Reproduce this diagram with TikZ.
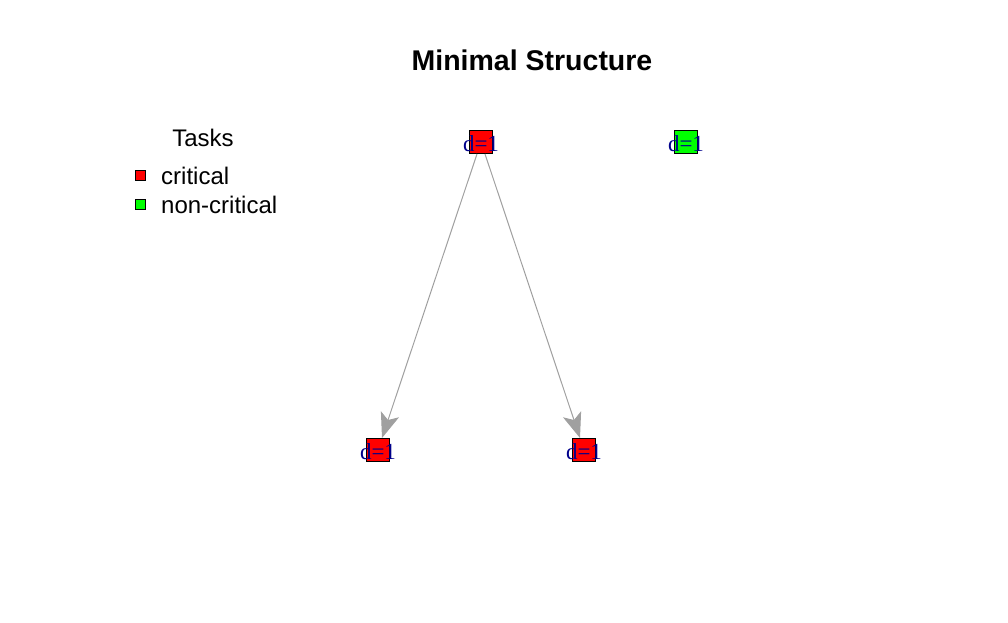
\documentclass[tikz,border=0pt]{standalone}
\usepackage{fontspec}
\setmainfont{Liberation Serif}
\newfontfamily\arialfont{Liberation Sans}
\usetikzlibrary{arrows.meta}
\definecolor{crit}{HTML}{FF0000}
\definecolor{noncrit}{HTML}{00FF00}
\definecolor{edgegray}{HTML}{A0A0A0}
\definecolor{lblblue}{HTML}{00008B}
\tikzset{
  task/.style={draw=black, line width=1pt, minimum width=23pt, minimum height=23pt, inner sep=0pt},
  tasklabel/.style={text=lblblue, font=\fontsize{23}{23}\selectfont, inner sep=0pt, yshift=-2pt},
  dep/.style={draw=edgegray, line width=1pt, -{Stealth[length=25pt, width=19pt, inset=6pt, fill=edgegray]}},
  legbox/.style={draw=black, line width=1pt, minimum width=10pt, minimum height=10pt, inner sep=0pt},
  legtext/.style={anchor=west, inner sep=0pt, font=\arialfont\fontsize{24}{24}\selectfont},
}
\begin{document}
\begin{tikzpicture}[x=1pt, y=-1pt]
\useasboundingbox (0,0) rectangle (1008,622);
\node[font=\arialfont\bfseries\fontsize{28.5}{28.5}\selectfont] (title) at (532,60) {Minimal Structure};
% legend
\node[font=\arialfont\fontsize{24}{24}\selectfont] (legtitle) at (203,138) {Tasks};
\node[legbox, fill=crit] (lc) at (140,175) {};
\node[legbox, fill=noncrit] (ln) at (140,204) {};
\node[legtext] (lct) at (161,176) {critical};
\node[legtext] (lnt) at (161,205) {non-critical};
% tasks
\node[task, fill=crit] (a) at (481,142) {};
\node[task, fill=noncrit] (g) at (686,142) {};
\node[task, fill=crit] (b) at (378,450) {};
\node[task, fill=crit] (c) at (584,450) {};
\node[tasklabel] (la) at (a) {d=1};
\node[tasklabel] (lg) at (g) {d=1};
\node[tasklabel] (lb) at (b) {d=1};
\node[tasklabel] (lc2) at (c) {d=1};
% edges
\draw[dep] (a) -- (b);
\draw[dep] (a) -- (c);
\end{tikzpicture}
\end{document}
